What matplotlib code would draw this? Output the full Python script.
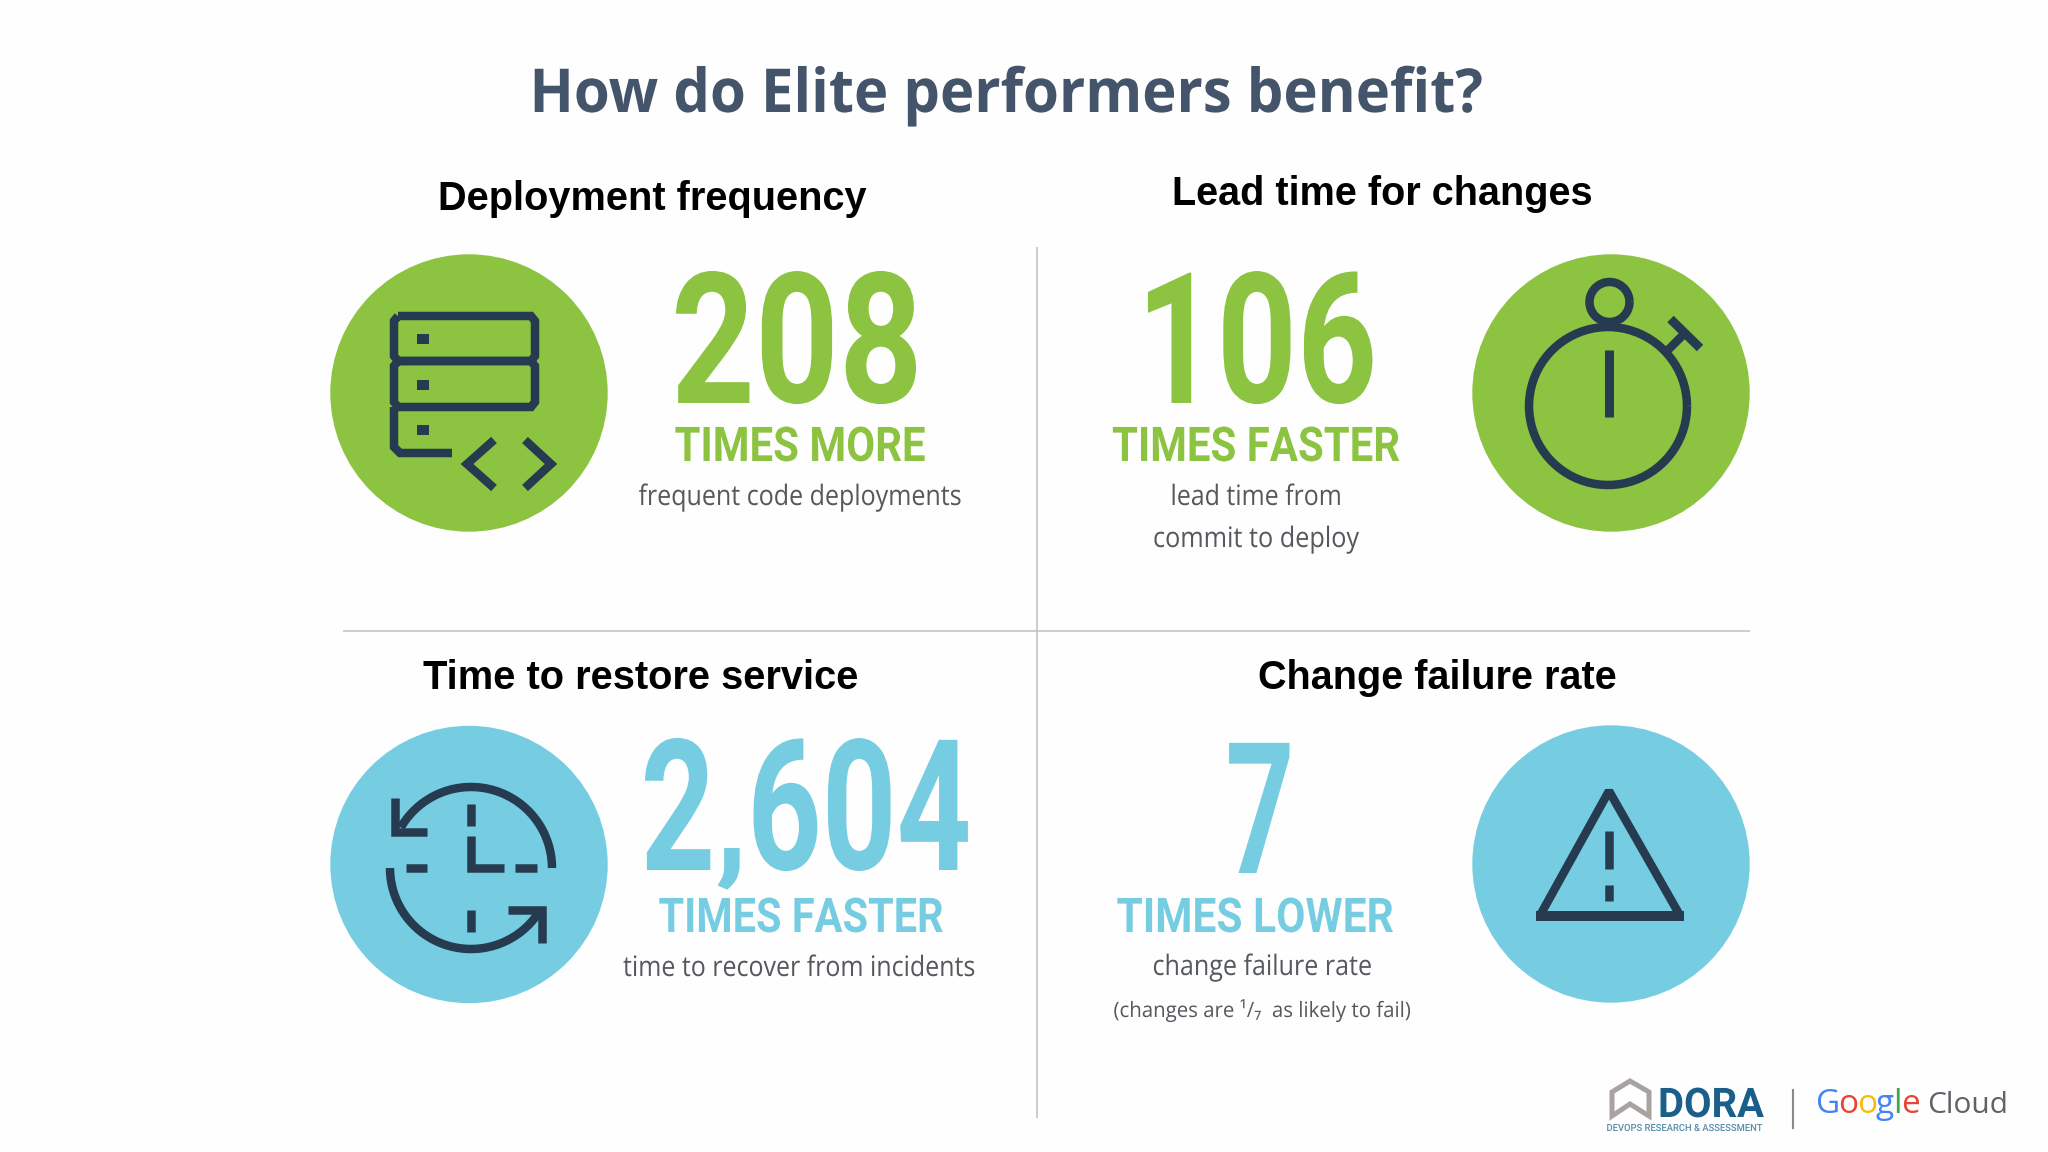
import matplotlib

matplotlib.use("Agg")
import matplotlib.pyplot as plt
import numpy as np
from matplotlib.patches import Circle, Polygon, Rectangle
from matplotlib.path import Path
from matplotlib.patheffects import AbstractPathEffect
from matplotlib.transforms import Affine2D

GREEN = "#8cc341"
BLUE = "#76cde2"
DARK = "#263b50"
BODY = "#55585c"

title = "How do Elite performers benefit?"
headings = ["Deployment frequency", "Lead time for changes", "Time to restore service", "Change failure rate"]
numbers = ["208", "106", "2,604", "7"]
units = ["TIMES MORE", "TIMES FASTER", "TIMES FASTER", "TIMES LOWER"]
captions = [
    ["frequent code deployments"],
    ["lead time from", "commit to deploy"],
    ["time to recover from incidents"],
    ["change failure rate"],
]
footnote = "(changes are \u00b9/\u2087  as likely to fail)"
colors = [GREEN, GREEN, BLUE, BLUE]
google_colors = ["#4285f4", "#ea4335", "#fbbc05", "#4285f4", "#34a853", "#ea4335"]

# layout, all in image pixels
heading_x = [652, 1382, 641, 1437]
heading_y = [210, 205, 689, 689]
heading_w = [428, 420, 435, 359]
number_x = [797, 1257, 806, 1260]
number_y = [403, 403, 870, 873]
number_w = [252, 241, 331, 69]
unit_x = [800, 1256, 801, 1255]
unit_y = [461, 461, 932, 932]
unit_w = [251, 288, 285, 277]
caption_x = [800, 1256, 799, 1262]
caption_y = [[505], [505, 547], [976], [975]]
caption_w = [[323], [171, 206], [352], [219]]
circle_x = [469, 1611, 469, 1611]
circle_y = [393, 393, 864.5, 864]

fig = plt.figure(figsize=(20.48, 11.52), dpi=100, facecolor="#fefefe")
ax = fig.add_axes([0, 0, 1, 1])
ax.set_xlim(0, 2048)
ax.set_ylim(1152, 0)
ax.axis("off")
renderer = fig.canvas.get_renderer()


class Squeeze(AbstractPathEffect):
    # narrows drawn text around x, there is no condensed font installed
    # drop shortens whatever hangs below the baseline (the comma of 2,604)
    def __init__(self, x, base, factor, drop=1.0):
        super().__init__()
        self.x = x
        self.base = base
        self.factor = factor
        self.drop = drop

    def draw_path(self, renderer, gc, tpath, affine, rgbFace=None):
        squeeze = Affine2D().translate(-self.x, 0).scale(self.factor, 1).translate(self.x, 0)
        path = (affine + squeeze).transform_path(tpath)
        verts = path.vertices.copy()
        below = verts[:, 1] < self.base
        verts[below, 1] = self.base - (self.base - verts[below, 1]) * self.drop
        renderer.draw_path(gc, Path(verts, path.codes), Affine2D(), rgbFace)


def put_text(s, x, y, width, size=20, **kw):
    t = ax.text(x, y, s, ha="center", va="baseline", fontsize=size, **kw)
    t.set_fontsize(size * width / t.get_window_extent(renderer).width)
    return t


def put_narrow(s, x, y, width, cap, drop=1.0, **kw):
    # cap is the capital height in pixels, width the drawn width
    size = cap / 0.71 * 0.72
    t = ax.text(x, y, s, ha="center", va="baseline", fontsize=size, **kw)
    t.set_path_effects([Squeeze(x, 1152 - y, width / t.get_window_extent(renderer).width, drop)])
    return t


def stroke(xs, ys, lw=8.5, join="miter", cap="butt"):
    ax.plot(xs, ys, color=DARK, lw=lw * 0.72, solid_joinstyle=join, solid_capstyle=cap)


def arc(cx, cy, r, start, end, lw=8.5):
    th = np.radians(np.linspace(start, end, 80))
    stroke(cx + r * np.cos(th), cy - r * np.sin(th), lw=lw)


def server_icon():
    for top, bottom in [(316, 361), (361, 407)]:
        xs = [398, 531, 535, 535, 531, 398, 394, 394, 398]
        ys = [top, top, top + 5, bottom - 5, bottom, bottom, bottom - 5, top + 5, top]
        stroke(xs, ys)
    stroke([394, 394, 400, 452], [407, 447, 453, 453])
    for y in [339, 385, 430]:
        ax.add_patch(Rectangle((417, y - 5), 12, 10, color=DARK, lw=0))
    stroke([494, 467, 494], [440, 464, 488])
    stroke([525, 551, 525], [440, 464, 488])


def watch_icon():
    arc(1608, 406, 79, 0, 360)
    arc(1609.5, 302, 20, 0, 360)
    stroke([1609, 1609], [350, 417], lw=9)
    stroke([1670.5, 1700], [319, 348], lw=9)
    stroke([1685, 1667], [333, 351])


def restore_icon():
    arc(471, 868, 81, 0, 150)
    arc(471, 868, 81, 180, 330)
    stroke([394.5, 394.5, 427], [798, 832, 832])
    stroke([508, 542, 542], [910, 910, 943])
    stroke([471, 471], [804, 826])
    stroke([471, 471], [910, 932])
    stroke([471, 471, 504], [836, 868, 868])
    stroke([406, 427], [868, 868])
    stroke([515, 537], [868, 868])


def warning_icon():
    ax.add_patch(Polygon([(1609, 791), (1680, 915.5), (1540, 915.5)], closed=True, fill=False,
                         ec=DARK, lw=8.5 * 0.72, joinstyle="bevel"))
    stroke([1536, 1684], [916, 916], lw=10)
    stroke([1609, 1609], [831, 869])
    stroke([1609, 1609], [885, 901])


def logos():
    ax.add_patch(Polygon([(1612, 1116), (1612, 1092), (1630, 1081), (1649, 1092), (1649, 1116), (1630, 1104)],
                         closed=True, fill=False, ec="#a8a3a1", lw=5 * 0.72, joinstyle="miter"))
    put_narrow("DORA", 1711, 1117, 106, 29, family="Roboto", weight="bold", color="#1a5e8a")
    put_narrow("DEVOPS RESEARCH & ASSESSMENT", 1685, 1131, 157, 7, family="Roboto", weight="medium", color="#5a8fab")
    ax.plot([1793, 1793], [1090, 1128], color="#8a8a8a", lw=1.5)
    x = 1816
    for letter, col in zip("Google", google_colors):
        t = ax.text(x, 1113, letter, family="Open Sans", fontsize=24, color=col, ha="left", va="baseline")
        x += t.get_window_extent(renderer).width * 0.93
    put_text("Cloud", 1967.5, 1113, 81, family="Open Sans", color="#5f6368")


ax.plot([1037, 1037], [247, 1118], color="#c4c4c4", lw=1.2, solid_capstyle="butt")
ax.plot([343, 1750], [631, 631], color="#c4c4c4", lw=1.2, solid_capstyle="butt")

put_narrow(title, 1006, 112, 953, 43, family="Open Sans", weight="bold", color="#44546a")

for i in range(4):
    ax.add_patch(Circle((circle_x[i], circle_y[i]), 138.7, color=colors[i], lw=0))
    put_text(headings[i], heading_x[i], heading_y[i], heading_w[i], family="Liberation Sans", weight="bold", color="black")
    put_narrow(numbers[i], number_x[i], number_y[i], number_w[i], 130, drop=0.6, family="Roboto", weight="bold", color=colors[i])
    put_narrow(units[i], unit_x[i], unit_y[i], unit_w[i], 34, family="Roboto", weight="bold", color=colors[i])
    for s, y, w in zip(captions[i], caption_y[i], caption_w[i]):
        put_narrow(s, caption_x[i], y, w, 20, family="Open Sans", color=BODY)

put_narrow(footnote, 1262, 1017, 297, 15, family=["Open Sans", "DejaVu Sans"], color=BODY)

server_icon()
watch_icon()
restore_icon()
warning_icon()
logos()

fig.savefig("out.png", dpi=100, facecolor=fig.get_facecolor())
